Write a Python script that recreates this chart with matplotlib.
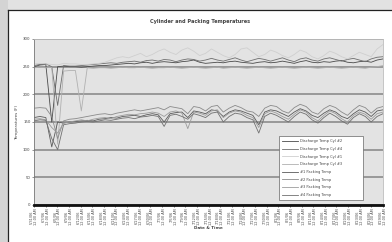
import matplotlib
matplotlib.use("Agg")
import matplotlib.pyplot as plt
import numpy as np
from matplotlib.patches import Rectangle
from matplotlib.lines import Line2D

# readings, one point per time step
cyl2 = [250, 253, 254, 150, 250, 251, 250, 250, 249, 250, 251, 252, 252, 253, 254, 255, 256, 255, 257, 258,
        256, 258, 259, 258, 257, 259, 260, 262, 258, 256, 257, 258, 257, 259, 260, 258, 257, 256, 258, 259,
        257, 258, 260, 258, 256, 259, 261, 258, 257, 259, 258, 260, 261, 258, 257, 259, 260, 258, 262, 264]
cyl4 = [252, 254, 255, 250, 180, 252, 251, 251, 252, 253, 254, 255, 256, 257, 256, 258, 259, 260, 258, 261,
        262, 260, 263, 262, 259, 262, 264, 263, 260, 262, 265, 262, 260, 263, 266, 262, 259, 262, 265, 263,
        260, 263, 266, 262, 259, 264, 266, 262, 260, 264, 266, 263, 260, 263, 265, 262, 259, 264, 267, 268]
cyl1 = [255, 256, 255, 254, 253, 256, 255, 255, 254, 254, 255, 256, 258, 262, 266, 268, 266, 270, 274, 268,
        272, 278, 282, 276, 272, 280, 284, 278, 270, 274, 282, 276, 270, 266, 272, 282, 284, 276, 268, 272,
        280, 276, 270, 266, 272, 280, 276, 268, 264, 270, 278, 274, 268, 264, 270, 276, 272, 268, 282, 290]
cyl3 = [248, 249, 248, 249, 110, 242, 243, 243, 170, 248, 247, 248, 248, 247, 248, 249, 248, 248, 249, 248,
        247, 248, 248, 249, 248, 247, 248, 249, 248, 247, 248, 249, 247, 248, 249, 248, 247, 248, 249, 248,
        247, 248, 249, 248, 247, 248, 249, 248, 247, 248, 249, 248, 247, 248, 249, 248, 247, 249, 250, 252]
pack1 = [158, 160, 158, 105, 150, 148, 150, 151, 152, 153, 152, 155, 156, 158, 157, 160, 161, 162, 160, 163,
         165, 163, 150, 165, 167, 168, 158, 170, 168, 165, 172, 170, 160, 168, 172, 170, 166, 162, 145, 168,
         172, 170, 165, 160, 168, 174, 170, 162, 158, 166, 172, 168, 160, 156, 165, 172, 168, 160, 170, 172]
pack2 = [175, 176, 175, 160, 120, 152, 155, 156, 158, 160, 162, 164, 165, 163, 166, 168, 170, 172, 170, 172,
         174, 176, 172, 178, 176, 174, 165, 178, 176, 170, 178, 180, 168, 175, 180, 176, 170, 168, 160, 175,
         180, 178, 170, 166, 176, 182, 178, 168, 164, 174, 180, 176, 168, 162, 172, 180, 176, 166, 175, 178]
pack3 = [155, 156, 154, 140, 130, 148, 150, 152, 154, 152, 155, 157, 158, 156, 160, 162, 164, 163, 165, 166,
         168, 166, 160, 168, 170, 166, 138, 168, 166, 162, 170, 172, 158, 166, 170, 168, 162, 158, 140, 165,
         170, 166, 160, 155, 164, 172, 168, 158, 152, 162, 170, 165, 156, 150, 162, 168, 164, 155, 165, 168]
pack4 = [152, 154, 153, 120, 100, 145, 147, 148, 150, 151, 150, 152, 154, 153, 155, 157, 158, 156, 159, 160,
         162, 160, 142, 162, 164, 160, 155, 165, 162, 158, 166, 168, 150, 160, 166, 164, 158, 154, 130, 160,
         166, 162, 156, 150, 160, 168, 164, 154, 148, 158, 166, 160, 152, 146, 158, 165, 160, 150, 160, 165]

series_names = ["Discharge Temp Cyl #2", "Discharge Temp Cyl #4", "Discharge Temp Cyl #1",
                "Discharge Temp Cyl #3", "#1 Packing Temp", "#2 Packing Temp",
                "#3 Packing Temp", "#4 Packing Temp"]

tick_labels = ["5/31/06\n12:00 AM", "6/3/06\n12:00 AM", "6/6/06\n12:00 AM", "6/9/06\n12:00 AM",
               "6/12/06\n12:00 AM", "6/15/06\n12:00 AM", "6/18/06\n12:00 AM", "6/21/06\n12:00 AM",
               "6/24/06\n12:00 AM", "6/27/06\n12:00 AM", "6/30/06\n12:00 AM", "7/3/06\n12:00 AM",
               "7/6/06\n12:00 AM", "7/9/06\n12:00 AM", "7/12/06\n12:00 AM", "7/15/06\n12:00 AM",
               "7/18/06\n12:00 AM", "7/21/06\n12:00 AM", "7/24/06\n12:00 AM", "7/27/06\n12:00 AM",
               "7/30/06\n12:00 AM", "8/2/06\n12:00 AM", "8/5/06\n12:00 AM", "8/8/06\n12:00 AM",
               "8/11/06\n12:00 AM", "8/14/06\n12:00 AM", "8/17/06\n12:00 AM", "8/20/06\n12:00 AM",
               "8/23/06\n12:00 AM", "8/26/06\n12:00 AM", "8/29/06\n12:00 AM"]

colors = ["#4a4a4a", "#6e6e6e", "#cfcfcf", "#b0b0b0", "#5a5a5a", "#8a8a8a", "#9c9c9c", "#707070"]

fig = plt.figure(figsize=(3.92, 2.42), dpi=100, facecolor="white")
# grey margin above and to the left of the page, then the page frame lines
fx, fy = 8 / 392, 1 - 10 / 242
fig.patches.append(Rectangle((0, fy), 1, 1 - fy, transform=fig.transFigure,
                             facecolor="#e2e2e2", edgecolor="none", zorder=-10))
fig.patches.append(Rectangle((0, 0), fx, 1, transform=fig.transFigure,
                             facecolor="#d4d4d4", edgecolor="none", zorder=-10))
fig.lines.append(Line2D([fx, fx], [0, fy], transform=fig.transFigure, color="#222222", lw=0.9))
fig.lines.append(Line2D([fx, 1], [fy, fy], transform=fig.transFigure, color="#222222", lw=0.9))

ax = fig.add_axes([34 / 392, 1 - 205 / 242, 349 / 392, 166 / 242])
ax.set_facecolor("#e3e3e3")

x = np.arange(len(cyl2))
all_series = [cyl2, cyl4, cyl1, cyl3, pack1, pack2, pack3, pack4]
for vals, name, c in zip(all_series, series_names, colors):
    ax.plot(x, vals, color=c, lw=0.6, label=name)

ax.set_xlim(0, len(cyl2) - 1)
ax.set_ylim(0, 300)
ax.set_yticks([0, 50, 100, 150, 200, 250, 300])
ax.grid(axis="y", color="#858585", lw=1.1)
ax.set_axisbelow(True)

ax.set_xticks(np.linspace(0, len(cyl2) - 1, len(tick_labels)))
ax.set_xticklabels(tick_labels, rotation=90, fontsize=2.5, color="#4a4a4a", linespacing=1.0)
ax.tick_params(axis="y", labelsize=2.8, colors="#444444", length=1.5, width=0.4, pad=1)
ax.tick_params(axis="x", length=1.5, width=0.4, pad=1)

for side in ["top", "right"]:
    ax.spines[side].set_color("#bbbbbb")
    ax.spines[side].set_linewidth(0.6)
ax.spines["left"].set_color("#777777")
ax.spines["left"].set_linewidth(0.6)
ax.spines["bottom"].set_color("#111111")
ax.spines["bottom"].set_linewidth(2.0)

ax.set_ylabel("Temperatures (F)", fontsize=3, color="#444444", labelpad=3)
ax.set_xlabel("Date & Time", fontsize=3, fontweight="bold", color="#444444", labelpad=1)

fig.text(0.51, 1 - 22 / 242, "Cylinder and Packing Temperatures", ha="center", va="center",
         fontsize=3.6, fontweight="bold", color="#444444")

leg = ax.legend(loc="lower left", bbox_to_anchor=(0.702, 0.03, 0.241, 0.368), mode="expand",
                fontsize=2.6, frameon=True, fancybox=False, framealpha=1, edgecolor="#666666",
                handlelength=4.5, borderpad=0.9, labelspacing=1.0, handletextpad=0.5, borderaxespad=0)
leg.get_frame().set_linewidth(0.5)
for t in leg.get_texts():
    t.set_color("#444444")

fig.savefig("out.png", dpi=100)
